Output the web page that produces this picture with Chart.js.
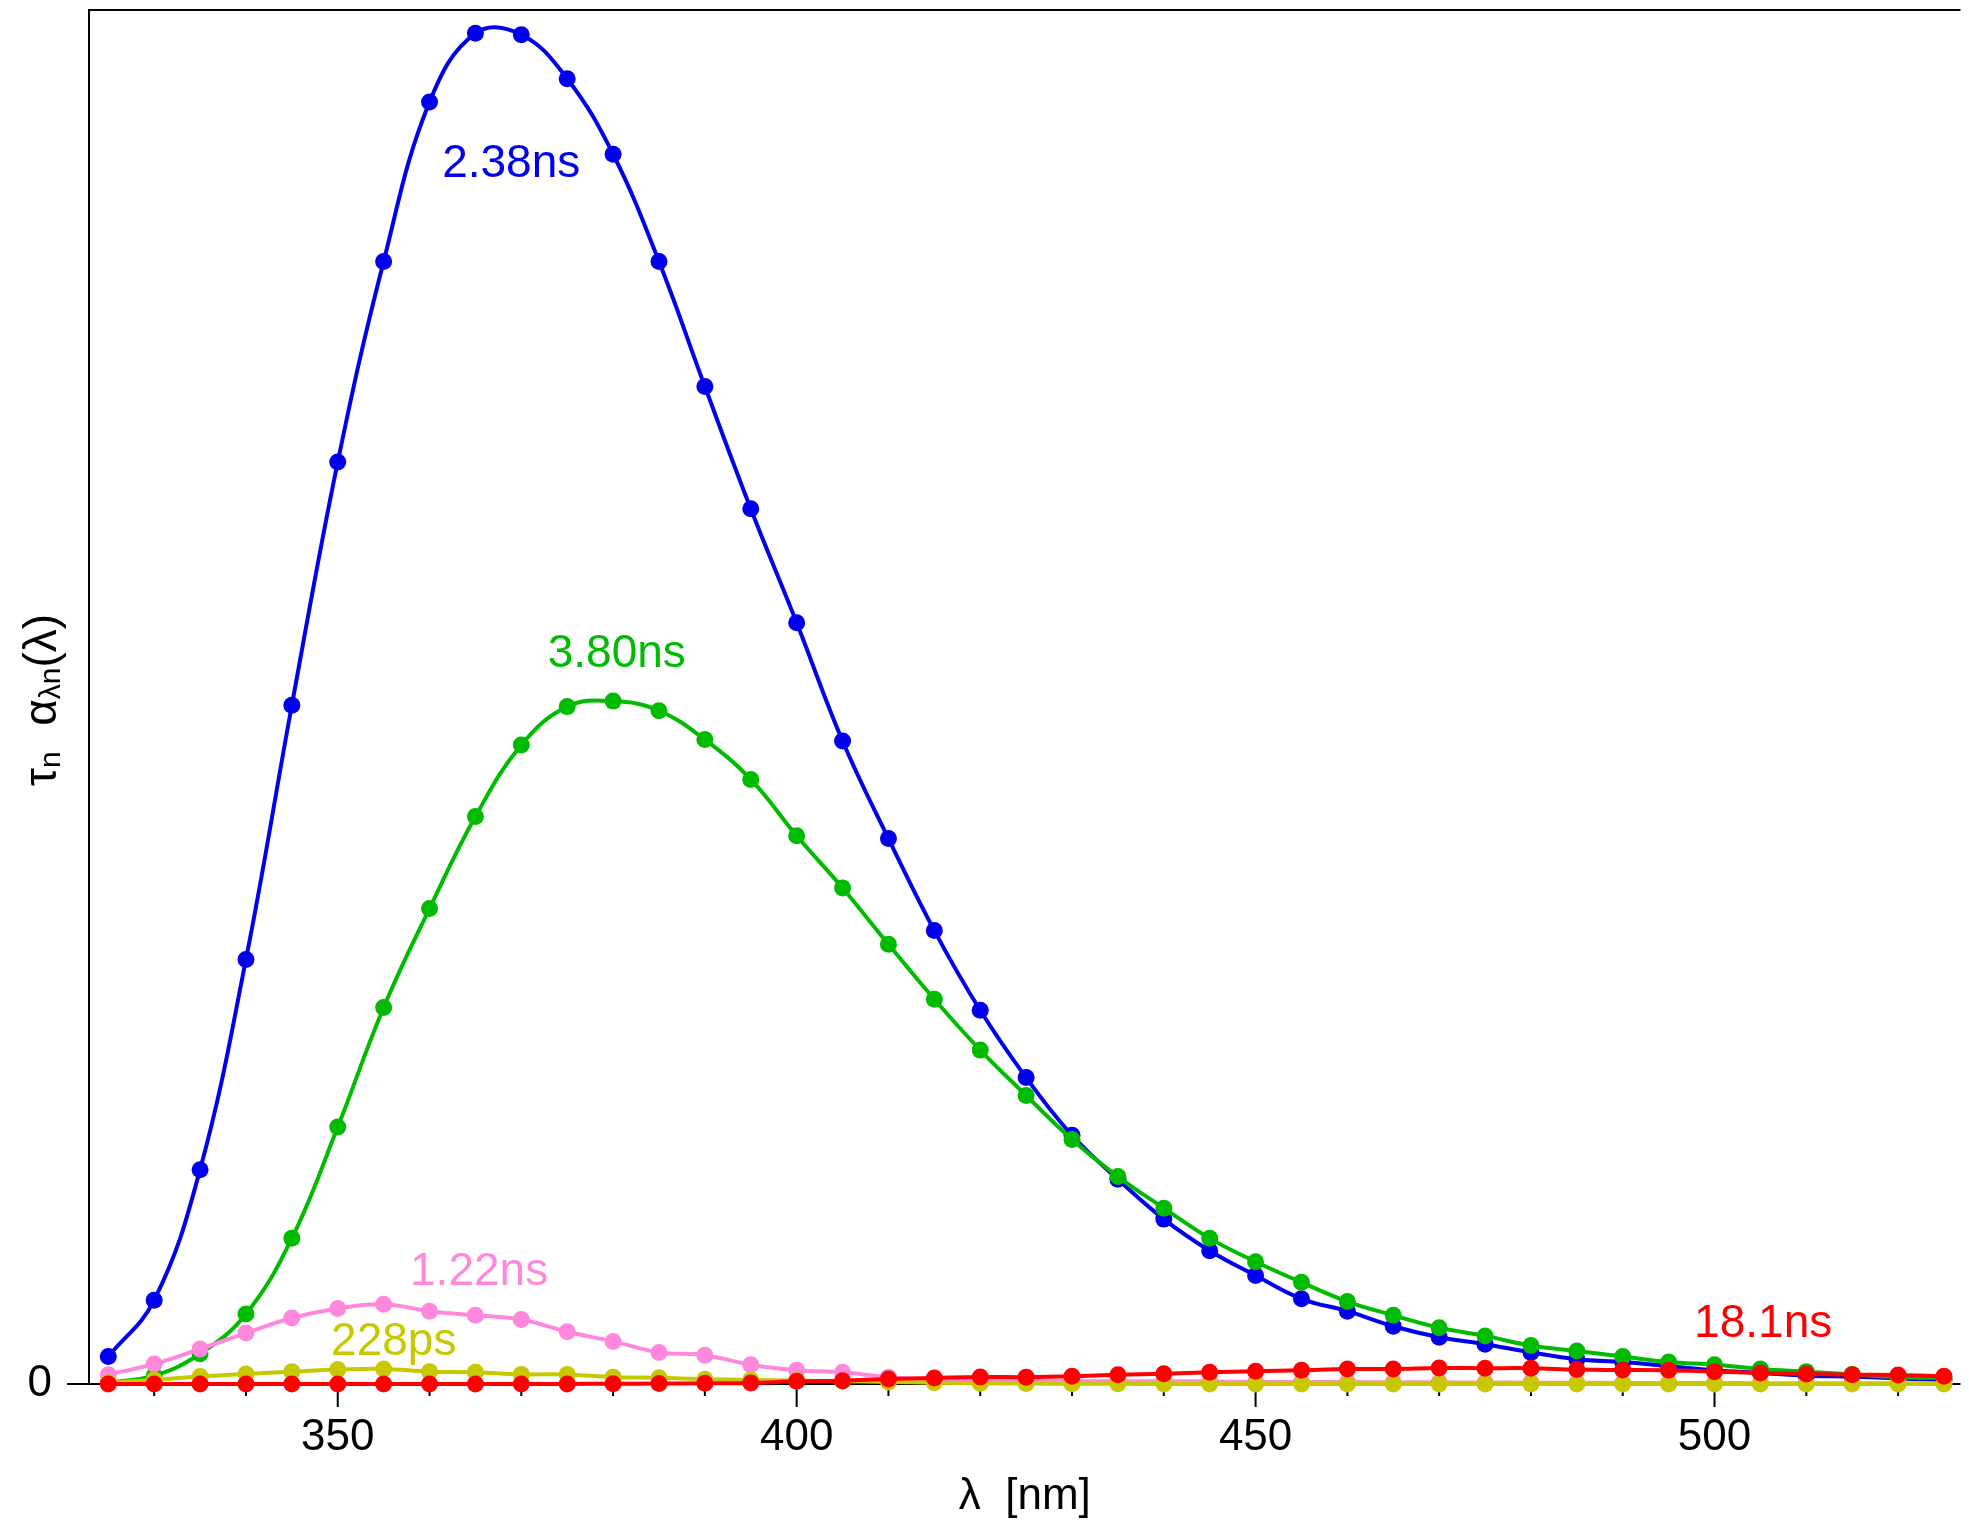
<!DOCTYPE html>
<html>
<head>
<meta charset="utf-8">
<script src="https://cdn.jsdelivr.net/npm/chart.js@4.4.1/dist/chart.umd.min.js"></script>
<style>
  html, body { margin: 0; background: #fff; }
  #wrap { width: 1969px; height: 1520px; }
</style>
</head>
<body>
<div id="wrap"><canvas id="myChart" width="1969" height="1520"></canvas></div>
<script>
const wavelengths = [325, 330, 335, 340, 345, 350, 355, 360, 365, 370, 375, 380, 385, 390, 395, 400,
  405, 410, 415, 420, 425, 430, 435, 440, 445, 450, 455, 460, 465, 470, 475, 480, 485, 490, 495, 500,
  505, 510, 515, 520, 525];

const blue238 = [2.0, 6.1, 15.6, 30.9, 49.4, 67.1, 81.7, 93.3, 98.3, 98.2, 95.0, 89.5, 81.7, 72.6, 63.7, 55.4,
  46.8, 39.7, 33.0, 27.2, 22.3, 18.1, 14.9, 12.0, 9.7, 7.9, 6.2, 5.3, 4.2, 3.4, 2.9, 2.3, 1.8, 1.6, 1.3, 1.0,
  0.8, 0.6, 0.55, 0.4, 0.3];
const green380 = [0.1, 0.6, 2.2, 5.1, 10.6, 18.7, 27.4, 34.6, 41.3, 46.5, 49.3, 49.7, 49.0, 46.9, 44.0, 39.9,
  36.1, 32.0, 28.0, 24.3, 21.0, 17.8, 15.1, 12.8, 10.6, 8.9, 7.4, 6.0, 5.0, 4.1, 3.5, 2.8, 2.4, 2.0, 1.6, 1.4,
  1.1, 0.9, 0.7, 0.5, 0.45];
const pink122 = [0.68, 1.46, 2.55, 3.71, 4.8, 5.5, 5.8, 5.3, 5.0, 4.7, 3.8, 3.1, 2.3, 2.1, 1.4, 1.0,
  0.85, 0.5, 0.35, 0.3, 0.25, 0.22, 0.2, 0.2, 0.18, 0.16, 0.15, 0.14, 0.13, 0.12, 0.11, 0.1, 0.09, 0.08, 0.08, 0.07,
  0.06, 0.06, 0.05, 0.05, 0.04];
const yellow228 = [0.1, 0.3, 0.55, 0.73, 0.9, 1.05, 1.1, 0.9, 0.85, 0.7, 0.7, 0.5, 0.45, 0.35, 0.3, 0.25,
  0.2, 0.15, 0.1, 0.06, 0.03, 0.02, 0.01, 0, 0, 0, 0, 0, 0, 0, 0, 0, 0, 0, 0, 0,
  0, 0, 0, 0, 0];
const red181 = [0, 0, 0, 0, 0, 0, 0, 0, 0, 0, 0, 0.02, 0.03, 0.05, 0.07, 0.2,
  0.24, 0.36, 0.44, 0.51, 0.5, 0.56, 0.68, 0.75, 0.85, 0.92, 1.0, 1.09, 1.1, 1.16, 1.15, 1.15, 1.05, 1.02, 1.0, 0.9,
  0.8, 0.73, 0.68, 0.65, 0.56];

const xTickLabels = [350, 400, 450, 500];

const colors = {
  blue: '#0000EE',
  green: '#00BB00',
  pink: '#FF88DD',
  yellow: '#C8C800',
  red: '#FF0000'
};

// drawn top-most first
const series = [
  { label: '18.1ns', data: red181, color: colors.red },
  { label: '228ps', data: yellow228, color: colors.yellow },
  { label: '1.22ns', data: pink122, color: colors.pink },
  { label: '3.80ns', data: green380, color: colors.green },
  { label: '2.38ns', data: blue238, color: colors.blue }
];

// curve labels placed in data coordinates
const curveLabels = [
  { text: '2.38ns', x: 368.9, y: 88.8, color: colors.blue },
  { text: '3.80ns', x: 380.4, y: 53.1, color: colors.green },
  { text: '1.22ns', x: 365.4, y: 8.15, color: colors.pink },
  { text: '228ps', x: 356.1, y: 3.06, color: colors.yellow },
  { text: '18.1ns', x: 505.3, y: 4.37, color: colors.red }
];

const FONT = '"Liberation Sans", Arial, sans-serif';
Chart.defaults.font.family = FONT;

const axesLines = {
  id: 'axesLines',
  beforeDatasetsDraw(chart) {
    const { ctx, chartArea: a, scales: { x, y } } = chart;
    const y0 = y.getPixelForValue(0);
    ctx.save();
    ctx.strokeStyle = '#000';
    ctx.lineWidth = 2;
    ctx.beginPath();
    ctx.moveTo(a.right, a.top);
    ctx.lineTo(a.left, a.top);
    ctx.lineTo(a.left, y0);
    ctx.moveTo(a.left - 22, y0);
    ctx.lineTo(a.right, y0);
    for (let v = 330; v <= 520; v += 10) {
      const px = x.getPixelForValue(v);
      ctx.moveTo(px, y0);
      ctx.lineTo(px, y0 + (v % 50 === 0 ? 23 : 12));
    }
    ctx.stroke();
    ctx.restore();
  }
};

const labelsPlugin = {
  id: 'curveLabels',
  afterDatasetsDraw(chart) {
    const { ctx, scales: { x, y } } = chart;
    ctx.save();
    ctx.font = '46px ' + FONT;
    ctx.textAlign = 'center';
    ctx.textBaseline = 'middle';
    curveLabels.forEach(l => {
      ctx.fillStyle = l.color;
      ctx.fillText(l.text, x.getPixelForValue(l.x), y.getPixelForValue(l.y));
    });
    ctx.restore();
  }
};

const yTitle = {
  id: 'yTitle',
  afterDraw(chart) {
    const { ctx } = chart;
    const parts = [
      { t: '\u03C4', size: 46, dy: 0 },
      { t: 'n', size: 30, dy: 4 },
      { t: '  ', size: 46, dy: 0 },
      { t: '\u03B1', size: 46, dy: 0 },
      { t: '\u03BBn', size: 30, dy: 4 },
      { t: '(\u03BB)', size: 46, dy: 0 }
    ];
    ctx.save();
    let total = 0;
    parts.forEach(p => {
      ctx.font = p.size + 'px ' + FONT;
      p.w = ctx.measureText(p.t).width;
      total += p.w;
    });
    ctx.translate(56, 700);
    ctx.rotate(-Math.PI / 2);
    ctx.fillStyle = '#000';
    ctx.textBaseline = 'alphabetic';
    ctx.textAlign = 'left';
    let cx = -total / 2;
    parts.forEach(p => {
      ctx.font = p.size + 'px ' + FONT;
      ctx.fillText(p.t, cx, p.dy);
      cx += p.w;
    });
    ctx.restore();
  }
};

new Chart(document.getElementById('myChart').getContext('2d'), {
  type: 'line',
  data: {
    datasets: series.map(s => ({
      label: s.label,
      data: wavelengths.map((w, i) => ({ x: w, y: s.data[i] })),
      borderColor: s.color,
      backgroundColor: s.color,
      pointBackgroundColor: s.color,
      borderWidth: 4,
      pointRadius: 8.5,
      pointBorderWidth: 0,
      tension: 0.4,
      fill: false,
      clip: false
    }))
  },
  options: {
    responsive: false,
    animation: false,
    layout: { padding: { top: 10, left: 0, right: 0, bottom: 0 } },
    plugins: {
      legend: { display: false },
      tooltip: { enabled: false }
    },
    scales: {
      x: {
        type: 'linear',
        min: 322.9,
        max: 526.8,
        grid: { display: false },
        border: { display: false },
        afterFit: s => { s.height = 136; s.paddingLeft = 0; s.paddingRight = 0; },
        afterBuildTicks: s => { s.ticks = xTickLabels.map(v => ({ value: v })); },
        ticks: {
          padding: 19,
          color: '#000',
          maxRotation: 0,
          autoSkip: false,
          font: { size: 44, lineHeight: 1.2 }
        },
        title: {
          display: true,
          text: '\u03BB  [nm]',
          color: '#000',
          font: { size: 44, lineHeight: 1 },
          padding: { top: 0, bottom: 1 }
        }
      },
      y: {
        min: 0,
        max: 100,
        grid: { display: false },
        border: { display: false },
        afterFit: s => { s.width = 89; s.paddingTop = 0; s.paddingBottom = 0; },
        afterBuildTicks: s => { s.ticks = [{ value: 0 }]; },
        ticks: {
          padding: 29,
          color: '#000',
          font: { size: 44 }
        }
      }
    }
  },
  plugins: [axesLines, labelsPlugin, yTitle]
});
</script>
</body>
</html>
